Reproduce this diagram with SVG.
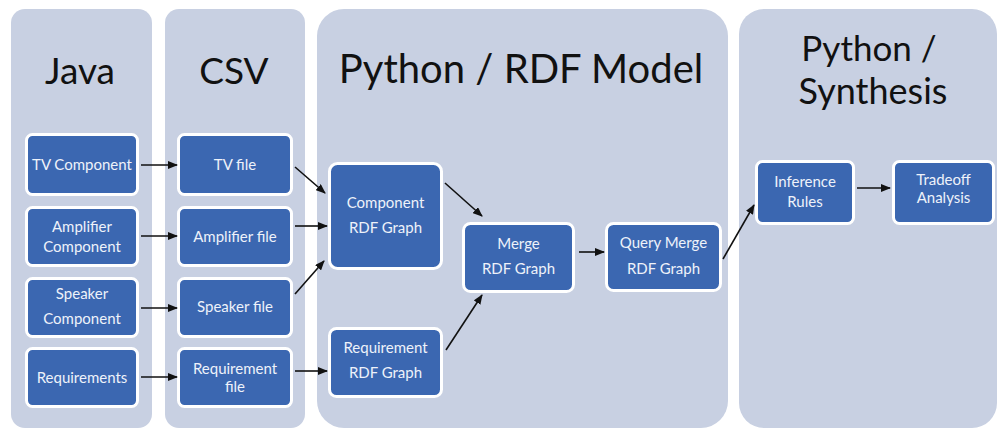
<svg xmlns="http://www.w3.org/2000/svg" width="998" height="430" viewBox="0 0 998 430">
<defs>
<marker id="ah" markerWidth="10" markerHeight="8" refX="9" refY="4" orient="auto" markerUnits="userSpaceOnUse">
<path d="M0,0 L10,4 L0,8 Z" fill="#111"/>
</marker>
<style>
.panel{fill:#c8d0e2;}
.title{font-family:Lato,"Open Sans",sans-serif;fill:#111;text-anchor:middle;}
.box{fill:#3b67b1;stroke:#fff;stroke-width:3;}
.lbl{font-family:Lato,"Open Sans",sans-serif;font-size:15px;fill:#eef2fa;text-anchor:middle;}
.conn line{stroke:#111;stroke-width:1.6;marker-end:url(#ah);}
</style>
</defs>
<rect width="998" height="430" fill="#fff"/>
<g id="panel-java">
<rect class="panel" x="11" y="9" width="141" height="419" rx="14"/>
<text class="title" x="80" y="84" font-size="37">Java</text>
</g>
<g id="panel-csv">
<rect class="panel" x="165" y="9" width="140" height="419" rx="14"/>
<text class="title" x="234" y="84" font-size="37">CSV</text>
</g>
<g id="panel-rdf">
<rect class="panel" x="317" y="9" width="411" height="419" rx="27"/>
<text class="title" x="521" y="83" font-size="40">Python / RDF Model</text>
</g>
<g id="panel-synthesis">
<rect class="panel" x="739" y="9" width="258" height="419" rx="25"/>
<text class="title" x="869" y="61" font-size="35">Python /</text>
<text class="title" x="873" y="104" font-size="36">Synthesis</text>
</g>

<g id="tv-component">
<rect class="box" x="26.5" y="134.5" width="111" height="60" rx="6"/>
<text class="lbl" x="82" y="170">TV Component</text>
</g>
<g id="amplifier-component">
<rect class="box" x="26.5" y="207.5" width="111" height="58" rx="6"/>
<text class="lbl" x="82" y="232">Amplifier</text>
<text class="lbl" x="82" y="252">Component</text>
</g>
<g id="speaker-component">
<rect class="box" x="26.5" y="278.5" width="111" height="58" rx="6"/>
<text class="lbl" x="82" y="299">Speaker</text>
<text class="lbl" x="82" y="324">Component</text>
</g>
<g id="requirements">
<rect class="box" x="26.5" y="348.5" width="111" height="58" rx="6"/>
<text class="lbl" x="82" y="383">Requirements</text>
</g>

<g id="tv-file">
<rect class="box" x="178.5" y="134.5" width="113" height="60" rx="6"/>
<text class="lbl" x="235" y="170">TV file</text>
</g>
<g id="amplifier-file">
<rect class="box" x="178.5" y="207.5" width="113" height="58" rx="6"/>
<text class="lbl" x="235" y="242">Amplifier file</text>
</g>
<g id="speaker-file">
<rect class="box" x="178.5" y="278.5" width="113" height="58" rx="6"/>
<text class="lbl" x="235" y="312">Speaker file</text>
</g>
<g id="requirement-file">
<rect class="box" x="178.5" y="348.5" width="113" height="58" rx="6"/>
<text class="lbl" x="235" y="374">Requirement</text>
<text class="lbl" x="235" y="392">file</text>
</g>

<g id="component-rdf">
<rect class="box" x="329.5" y="163.5" width="112" height="105" rx="8"/>
<text class="lbl" x="385.5" y="208">Component</text>
<text class="lbl" x="385.5" y="233">RDF Graph</text>
</g>
<g id="requirement-rdf">
<rect class="box" x="329.5" y="328.5" width="112" height="68" rx="7"/>
<text class="lbl" x="385.5" y="353">Requirement</text>
<text class="lbl" x="385.5" y="378">RDF Graph</text>
</g>
<g id="merge-rdf">
<rect class="box" x="463.5" y="223.5" width="110" height="68" rx="7"/>
<text class="lbl" x="518.5" y="249">Merge</text>
<text class="lbl" x="518.5" y="274">RDF Graph</text>
</g>
<g id="query-merge-rdf">
<rect class="box" x="606.5" y="223.5" width="114" height="67" rx="7"/>
<text class="lbl" x="663.5" y="248">Query Merge</text>
<text class="lbl" x="663.5" y="274">RDF Graph</text>
</g>

<g id="inference-rules">
<rect class="box" x="756.5" y="161.5" width="97" height="62" rx="6"/>
<text class="lbl" x="805" y="187">Inference</text>
<text class="lbl" x="805" y="207">Rules</text>
</g>
<g id="tradeoff-analysis">
<rect class="box" x="893.5" y="161.5" width="100" height="62" rx="6"/>
<text class="lbl" x="943.5" y="185">Tradeoff</text>
<text class="lbl" x="943.5" y="203">Analysis</text>
</g>

<g id="connectors" class="conn">
<line x1="141" y1="165" x2="177" y2="165"/>
<line x1="141" y1="236" x2="177" y2="236"/>
<line x1="141" y1="308" x2="177" y2="308"/>
<line x1="141" y1="377" x2="177" y2="377"/>
<line x1="295" y1="167" x2="325" y2="193"/>
<line x1="295" y1="226" x2="327" y2="226"/>
<line x1="295" y1="294" x2="324" y2="261"/>
<line x1="295" y1="371" x2="327" y2="371"/>
<line x1="445" y1="183" x2="482" y2="216"/>
<line x1="446" y1="350" x2="482" y2="295"/>
<line x1="579" y1="252" x2="604" y2="252"/>
<line x1="723" y1="259" x2="754" y2="205"/>
<line x1="857" y1="188" x2="890" y2="188"/>
</g>
</svg>
